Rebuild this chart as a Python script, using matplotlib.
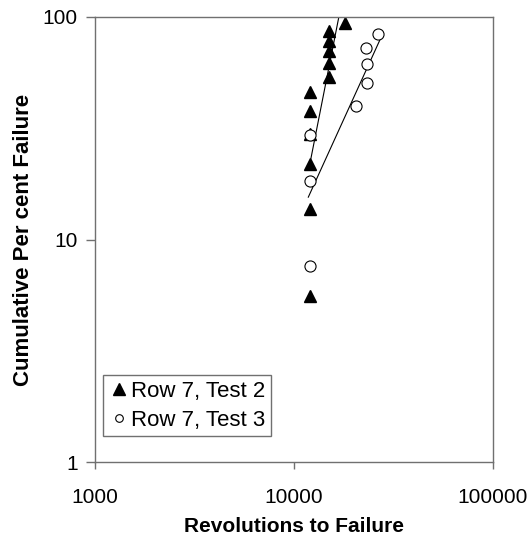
import numpy as np
import matplotlib.pyplot as plt
from matplotlib.ticker import FixedLocator, FixedFormatter, NullLocator

plt.rcParams['font.family'] = ['Liberation Sans', 'DejaVu Sans']

# Row 7, Test 2 (triangulos)
rev_t2 = [12000, 12000, 12000, 12000, 12000, 12000, 15000, 15000, 15000, 15000, 15000, 18000]
pct_t2 = [5.6, 13.7, 21.8, 29.8, 37.9, 46.0, 54.0, 62.1, 70.2, 78.2, 86.3, 94.4]

# Row 7, Test 3 (circulos)
rev_t3 = [12000, 12000, 12000, 20500, 23300, 23300, 23000, 26400]
pct_t3 = [7.6, 18.3, 29.5, 39.8, 50.5, 61.2, 72.6, 83.9]

# linhas de ajuste (extremos)
fit_t2_x = [12170, 16800]
fit_t2_y = [23.2, 100]
fit_t3_x = [11800, 27300]
fit_t3_y = [15.5, 80.5]

fig = plt.figure(figsize=(5.32, 5.44), dpi=100)
ax = fig.add_axes([95/532, 1 - 462/544, (493 - 95)/532, (462 - 17)/544])

ax.plot(fit_t2_x, fit_t2_y, color='black', lw=0.8)
ax.plot(fit_t3_x, fit_t3_y, color='black', lw=0.8)
ax.plot(rev_t2, pct_t2, linestyle='none', marker='^', color='black', markersize=9,
        label='Row 7, Test 2')
ax.plot(rev_t3, pct_t3, linestyle='none', marker='o', markerfacecolor='white',
        markeredgecolor='black', markeredgewidth=0.8, markersize=8, label='Row 7, Test 3')

ax.set_xscale('log')
ax.set_yscale('log')
ax.set_xlim(1000, 100000)
ax.set_ylim(1, 100)

ax.xaxis.set_major_locator(FixedLocator([1000, 10000, 100000]))
ax.xaxis.set_major_formatter(FixedFormatter(['1000', '10000', '100000']))
ax.xaxis.set_minor_locator(NullLocator())
ax.yaxis.set_major_locator(FixedLocator([1, 10, 100]))
ax.yaxis.set_major_formatter(FixedFormatter(['1', '10', '100']))
ax.yaxis.set_minor_locator(NullLocator())

for s in ax.spines.values():
    s.set_color('#707070')
    s.set_linewidth(1.0)
ax.tick_params(direction='out', width=1, color='#707070', labelsize=15)
ax.tick_params(axis='x', length=5, pad=14)
ax.tick_params(axis='y', length=6.5, pad=6)

ax.set_xlabel('Revolutions to Failure', fontsize=15, fontweight='bold', labelpad=7)
ax.set_ylabel('Cumulative Per cent Failure', fontsize=16, fontweight='bold', labelpad=6)

leg = ax.legend(loc='lower left', bbox_to_anchor=(0.02, 0.058), fontsize=16,
                handletextpad=0.1, handlelength=0.9, borderpad=0.25,
                labelspacing=0.35, borderaxespad=0, fancybox=False, framealpha=1)
leg.get_frame().set_edgecolor('#707070')
leg.get_frame().set_linewidth(1.0)
leg.legend_handles[1].set_markersize(5.5)

fig.savefig('out.png', dpi=100)
